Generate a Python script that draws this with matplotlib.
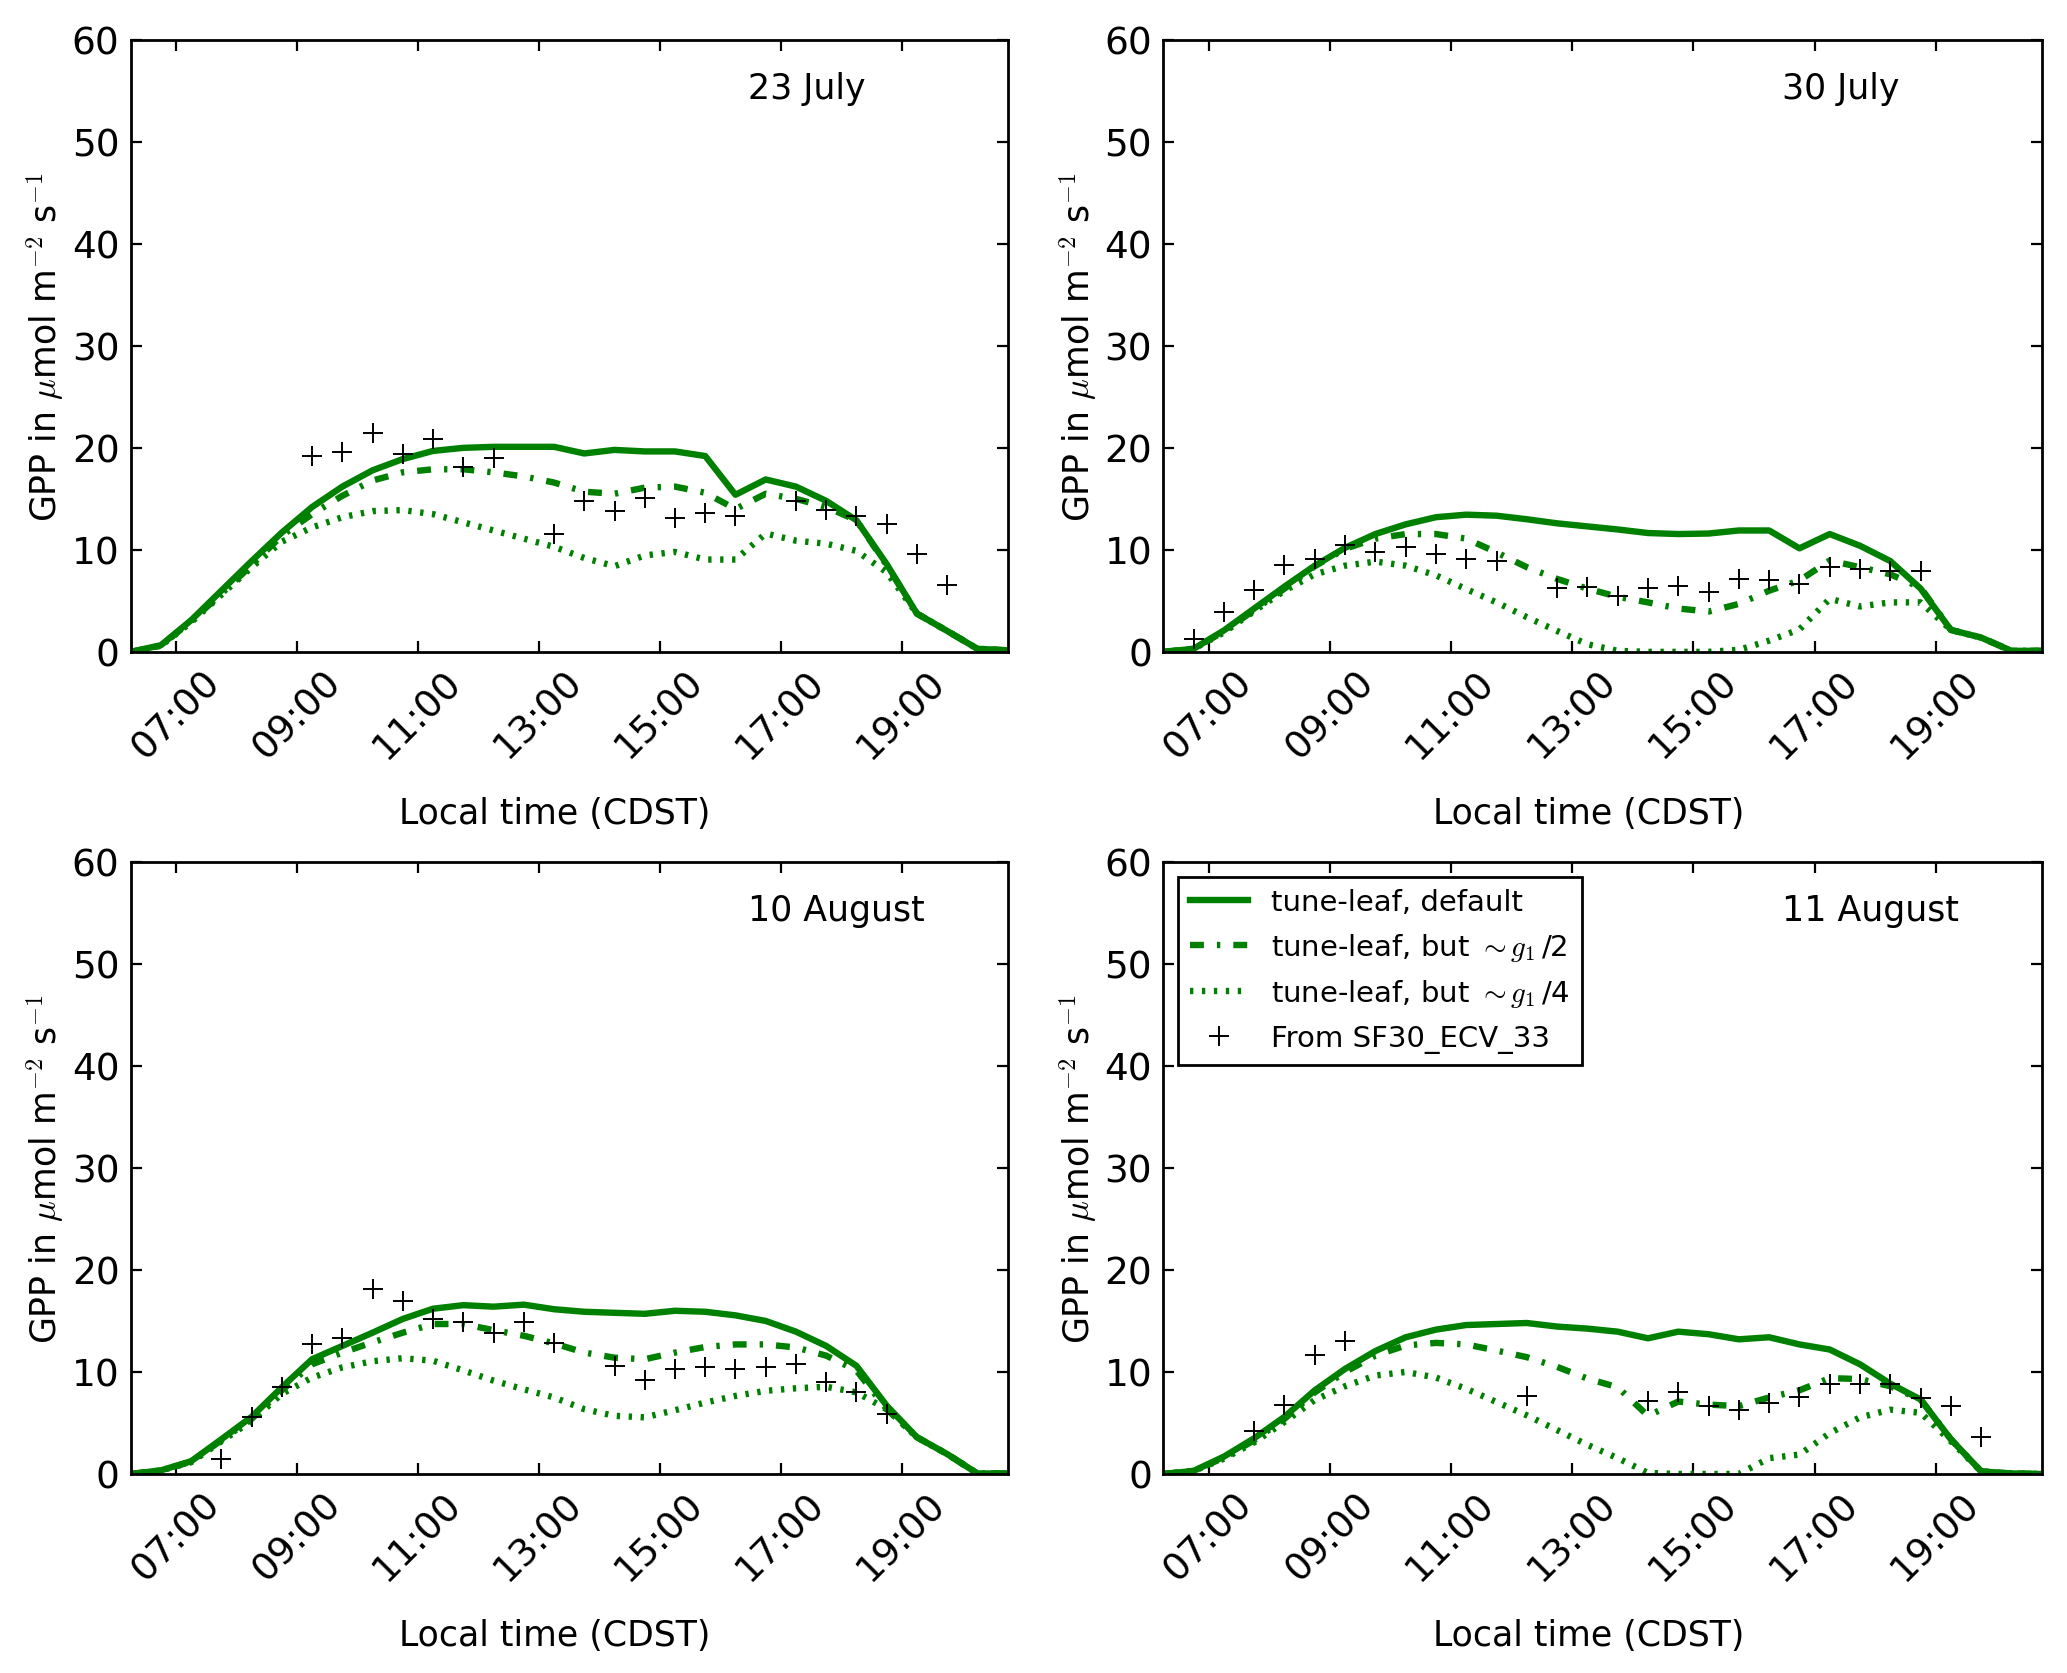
"""
GPP diurnal cycles: tune-leaf model runs vs. SF30_ECV_33 observations, four days.
"""

import numpy as np
import matplotlib
matplotlib.use("Agg")
import matplotlib.pyplot as plt
from matplotlib.ticker import FuncFormatter

plt.rcParams["font.family"] = ["DejaVu Sans"]
plt.rcParams["mathtext.fontset"] = "cm"
plt.rcParams["xtick.direction"] = "in"
plt.rcParams["ytick.direction"] = "in"
plt.rcParams["xtick.top"] = True
plt.rcParams["ytick.right"] = True
plt.rcParams["xtick.major.size"] = 4
plt.rcParams["ytick.major.size"] = 4
plt.rcParams["axes.linewidth"] = 1.0
plt.rcParams["lines.scale_dashes"] = False

# half-hourly local time (CDST, hours)
HOURS = [6.25, 6.75, 7.25, 7.75, 8.25, 8.75, 9.25, 9.75, 10.25, 10.75,
         11.25, 11.75, 12.25, 12.75, 13.25, 13.75, 14.25, 14.75, 15.25, 15.75,
         16.25, 16.75, 17.25, 17.75, 18.25, 18.75, 19.25, 19.75, 20.25, 20.75]

DAYS = ["23 July", "30 July", "10 August", "11 August"]

JUL23_DEFAULT = [0, 0.65, 3.1, 6.0, 8.9, 11.7, 14.2, 16.2, 17.8, 18.9,
                 19.7, 20.0, 20.1, 20.1, 20.1, 19.45, 19.8, 19.65, 19.65, 19.2,
                 15.4, 16.9, 16.2, 14.8, 12.9, 8.6, 3.75, 2.05, 0.3, 0.15]
JUL23_HALF = [0, 0.6, 3.0, 5.7, 8.5, 11.4, 13.5, 15.3, 16.8, 17.6,
              17.9, 17.9, 17.6, 17.2, 16.6, 15.7, 15.5, 16.1, 16.2, 15.6,
              14.0, 15.5, 15.0, 14.2, 12.9, 8.5, 3.75, 2.05, 0.3, 0.15]
JUL23_QUARTER = [0, 0.6, 2.9, 5.6, 8.3, 10.8, 12.2, 13.2, 13.8, 13.9,
                 13.5, 12.7, 11.9, 11.1, 10.3, 9.2, 8.4, 9.45, 9.8, 9.05,
                 9.05, 11.6, 10.9, 10.6, 9.9, 7.8, 3.75, 2.05, 0.3, 0.15]
JUL23_OBS = [None, None, None, None, None, None, 19.2, 19.6, 21.5, 19.4,
             20.9, 18.1, 19.0, None, 11.6, 14.8, 13.8, 15.1, 13.1, 13.6,
             13.3, None, 14.8, 13.9, 13.3, 12.5, 9.6, 6.6, None, None]

JUL30_DEFAULT = [0, 0.3, 2.1, 4.25, 6.4, 8.45, 10.2, 11.55, 12.5, 13.2,
                 13.45, 13.35, 13.0, 12.6, 12.3, 12.0, 11.65, 11.55, 11.6, 11.9,
                 11.9, 10.15, 11.55, 10.4, 8.9, 6.2, 2.15, 1.4, 0.1, 0.1]
JUL30_HALF = [0, 0.3, 2.0, 4.1, 6.2, 8.4, 10.1, 11.1, 11.55, 11.55,
              11.1, 9.75, 8.3, 7.15, 6.2, 5.4, 4.85, 4.25, 3.95, 4.7,
              6.0, 7.0, 8.95, 8.3, 7.6, 6.3, 2.15, 1.4, 0.1, 0.1]
JUL30_QUARTER = [0, 0.3, 1.9, 4.0, 6.0, 7.6, 8.45, 8.85, 8.45, 7.5,
                 6.15, 4.85, 3.4, 2.05, 0.75, 0.1, 0, 0, 0, 0.2,
                 1.1, 2.2, 5.2, 4.45, 4.85, 4.85, 2.15, 1.4, 0.1, 0.1]
JUL30_OBS = [None, 1.3, 3.9, 6.1, 8.55, 9.1, 10.5, 9.75, 10.25, 9.6,
             9.1, 8.95, None, 6.3, 6.4, 5.5, 6.3, 6.45, 5.85, 7.15,
             7.0, 6.65, 8.3, 8.1, 7.95, 7.95, None, None, None, None]

AUG10_DEFAULT = [0, 0.35, 1.25, 3.4, 5.6, 8.5, 11.25, 12.55, 13.85, 15.2,
                 16.2, 16.55, 16.4, 16.6, 16.15, 15.9, 15.8, 15.7, 16.0, 15.9,
                 15.55, 15.0, 13.95, 12.55, 10.6, 6.7, 3.6, 1.95, 0.05, 0.05]
AUG10_HALF = [0, 0.35, 1.2, 3.3, 5.4, 8.2, 10.75, 11.9, 12.9, 13.85,
              14.7, 14.7, 14.1, 13.55, 12.8, 11.9, 11.4, 11.25, 11.9, 12.45,
              12.7, 12.7, 12.4, 11.6, 10.15, 6.35, 3.6, 1.95, 0.05, 0.05]
AUG10_QUARTER = [0, 0.35, 1.15, 3.2, 5.2, 7.85, 9.45, 10.45, 11.05, 11.35,
                 11.1, 10.15, 9.15, 8.3, 7.5, 6.35, 5.7, 5.55, 6.25, 7.0,
                 7.65, 8.15, 8.4, 8.55, 8.0, 6.35, 3.6, 1.95, 0.05, 0.05]
AUG10_OBS = [None, None, None, 1.45, 5.6, 8.55, 12.7, 13.3, 18.1, 17.0,
             15.2, 14.9, 13.85, 14.9, 12.8, None, 10.55, 9.2, 10.25, 10.5,
             10.25, 10.5, 10.75, 9.0, 8.0, 5.9, None, None, None, None]

AUG11_DEFAULT = [0, 0.3, 1.7, 3.5, 5.6, 8.2, 10.3, 12.05, 13.4, 14.15,
                 14.6, 14.7, 14.8, 14.45, 14.25, 13.95, 13.3, 13.95, 13.7, 13.2,
                 13.4, 12.7, 12.2, 10.75, 8.85, 7.3, 3.4, 0.25, 0.05, 0]
AUG11_HALF = [0, 0.3, 1.6, 3.3, 5.4, 8.0, 10.0, 11.6, 12.6, 12.85,
              12.7, 12.1, 11.45, 10.5, 9.35, 8.5, 5.7, 7.1, 6.8, 6.65,
              7.5, 8.2, 9.4, 9.3, 8.6, 7.3, 3.4, 0.25, 0.05, 0]
AUG11_QUARTER = [0, 0.3, 1.5, 3.1, 5.1, 7.25, 8.6, 9.65, 10.0, 9.45,
                 8.35, 7.05, 5.75, 4.3, 2.85, 1.55, 0.1, 0, 0, 0,
                 1.55, 1.9, 4.0, 5.55, 6.3, 6.0, 3.2, 0.25, 0.05, 0]
AUG11_OBS = [None, None, None, 4.25, 6.75, 11.7, 13.0, None, None, None,
             None, None, 7.6, None, None, None, 7.15, 8.0, 6.65, 6.3,
             7.0, 7.5, 8.8, 8.8, 8.85, 7.4, 6.65, 3.65, None, None]

RUNS = [
    (JUL23_DEFAULT, JUL23_HALF, JUL23_QUARTER, JUL23_OBS),
    (JUL30_DEFAULT, JUL30_HALF, JUL30_QUARTER, JUL30_OBS),
    (AUG10_DEFAULT, AUG10_HALF, AUG10_QUARTER, AUG10_OBS),
    (AUG11_DEFAULT, AUG11_HALF, AUG11_QUARTER, AUG11_OBS),
]

XTICKS = [7, 9, 11, 13, 15, 17, 19]


def hhmm(h, pos=None):
    hh = int(h)
    mm = int(round((h - hh) * 60))
    return f"{hh:02d}:{mm:02d}"


def main():
    fig = plt.figure(figsize=(10.335, 8.37), dpi=200)
    # axes boxes in figure fractions (left, bottom, width, height)
    boxes = [(0.0632, 0.610, 0.4243, 0.3656), (0.5628, 0.610, 0.4250, 0.3656),
             (0.0632, 0.1189, 0.4243, 0.3656), (0.5628, 0.1189, 0.4250, 0.3656)]
    green = (0, 0.5, 0)
    t = np.array(HOURS)

    for i, (box, day, run) in enumerate(zip(boxes, DAYS, RUNS)):
        default, half, quarter, obs = run
        ax = fig.add_axes(box)
        ax.plot(t, default, "-", color=green, lw=2.3, label="tune-leaf, default")
        ax.plot(t, half, color=green, lw=2.3, linestyle=(0, (5, 4.7, 1.2, 4.7)),
                label=r"tune-leaf, but $\sim g_1\,$/2")
        ax.plot(t, quarter, color=green, lw=2.3, linestyle=(0, (1.2, 3.1)),
                label=r"tune-leaf, but $\sim g_1\,$/4")
        ax.plot(t, np.array(obs, dtype=float), "+", color="k", ms=7, mew=0.7,
                label="From SF30_ECV_33")

        ax.set_xlim(6.25, 20.75)
        ax.set_ylim(0, 60)
        ax.set_yticks(range(0, 61, 10))
        ax.set_xticks(XTICKS)
        ax.xaxis.set_major_formatter(FuncFormatter(hhmm))
        ax.tick_params(labelsize=13.5, pad=4)
        for lab in ax.get_xticklabels():
            lab.set_rotation(45)
        ax.set_xlabel("Local time (CDST)", fontsize=12.5, labelpad=11)
        ax.xaxis.label.set_x(0.484)
        ax.set_ylabel(r"GPP in $\mu$mol m$^{-2}$ s$^{-1}$", fontsize=12.5,
                      labelpad=2)
        ax.text(0.704, 0.922, day, transform=ax.transAxes, fontsize=12.5,
                ha="left", va="center")

        if i == 3:
            leg = ax.legend(loc="upper left", fontsize=10.5, numpoints=1,
                            fancybox=False, framealpha=1, borderaxespad=0.5)
            leg.get_frame().set_edgecolor("k")
            leg.get_frame().set_linewidth(1.0)

    fig.savefig("out.png", dpi=200)


if __name__ == "__main__":
    main()
